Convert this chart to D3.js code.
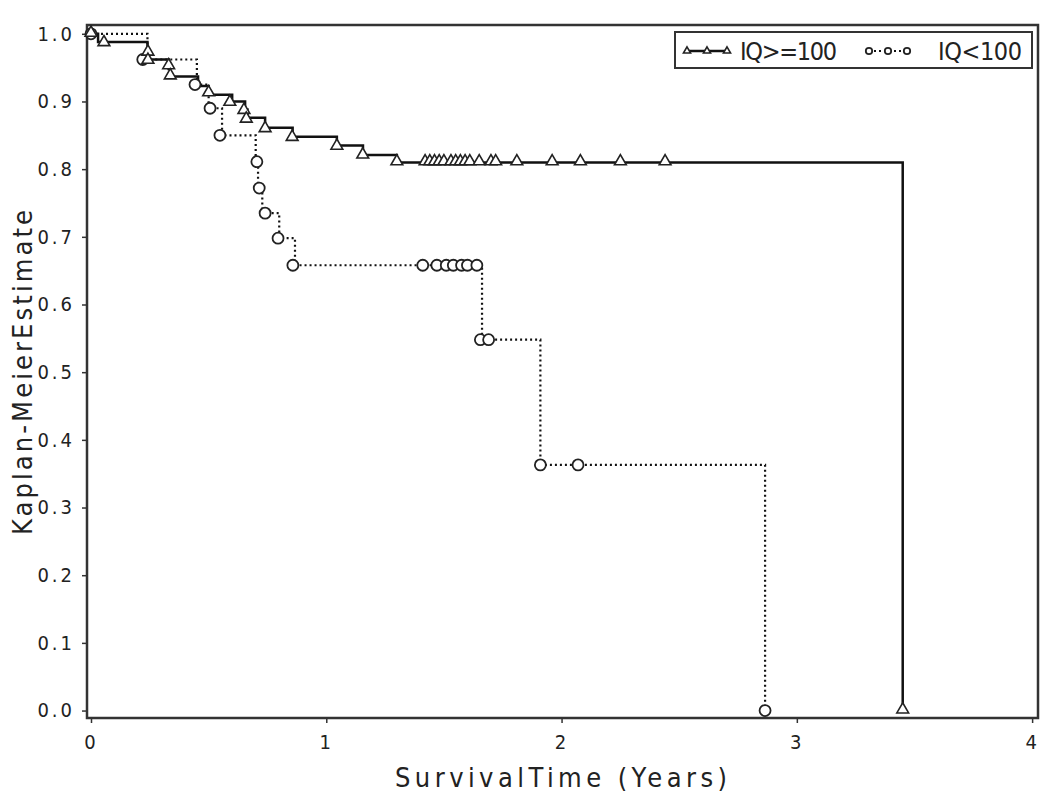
<!DOCTYPE html>
<html lang="en">
  <head>
    <meta charset="utf-8" />
    <title>Kaplan-Meier Estimate by IQ</title>
    <script src="https://d3js.org/d3.v7.js"></script>
    <style>
      body { margin: 0; background: #fff; }
      text {
        font-family: "DejaVu Sans Condensed", "DejaVu Sans", sans-serif;
        fill: #222;
      }
    </style>
  </head>
  <body>
    <div id="graph"></div>
    <script>

    // IQ >= 100 : drop times and survival after each drop
    var hiTimes = [0, 0.03, 0.24, 0.33, 0.336, 0.455, 0.5, 0.6, 0.655, 0.665, 0.74, 0.857, 1.045, 1.156, 1.30, 3.45];
    var hiSurv  = [1.0, 0.988, 0.962, 0.948, 0.937, 0.923, 0.91, 0.9, 0.888, 0.876, 0.861, 0.848, 0.835, 0.821, 0.81, 0.0];
    // IQ >= 100 : censored marks
    var hiCensT = [0, 0.055, 0.242, 0.242, 0.33, 0.337, 0.5, 0.59, 0.65, 0.66, 0.74, 0.855, 1.045, 1.155, 1.30,
                   1.42, 1.44, 1.46, 1.48, 1.50, 1.53, 1.55, 1.57, 1.59, 1.61, 1.65, 1.70, 1.72, 1.81, 1.96, 2.08, 2.25, 2.44, 3.45];
    var hiCensS = [1.0, 0.986, 0.972, 0.96, 0.952, 0.937, 0.912, 0.898, 0.886, 0.873, 0.859, 0.846, 0.833, 0.82, 0.81,
                   0.81, 0.81, 0.81, 0.81, 0.81, 0.81, 0.81, 0.81, 0.81, 0.81, 0.81, 0.81, 0.81, 0.81, 0.81, 0.81, 0.81, 0.81, 0.0];

    // IQ < 100
    var loTimes = [0, 0.24, 0.45, 0.5, 0.557, 0.70, 0.71, 0.728, 0.80, 0.867, 1.662, 1.91, 2.865];
    var loSurv  = [1.0, 0.962, 0.925, 0.89, 0.85, 0.811, 0.772, 0.735, 0.698, 0.658, 0.548, 0.363, 0.0];
    var loCensT = [0, 0.22, 0.442, 0.506, 0.548, 0.705, 0.715, 0.74, 0.795, 0.858,
                   1.41, 1.47, 1.51, 1.54, 1.575, 1.60, 1.64, 1.655, 1.69, 1.91, 2.07, 2.865];
    var loCensS = [1.0, 0.962, 0.925, 0.89, 0.85, 0.811, 0.772, 0.735, 0.698, 0.658,
                   0.658, 0.658, 0.658, 0.658, 0.658, 0.658, 0.658, 0.548, 0.548, 0.363, 0.363, 0.0];

    var yTicks = [0, 0.1, 0.2, 0.3, 0.4, 0.5, 0.6, 0.7, 0.8, 0.9, 1.0];
    var xTicks = [0, 1, 2, 3, 4];
    var legendLabels = ["IQ>=100", "IQ<100"];

    var w = 1050, h = 805;

    var x = d3.scaleLinear().domain([-0.017, 4.025]).range([87, 1038]);
    var y = d3.scaleLinear().domain([-0.011, 1.013]).range([718, 25]);

    var svg = d3.select("#graph")
      .append("svg")
        .attr("width", w)
        .attr("height", h);

    // frame
    svg.append("rect")
      .attr("x", x.range()[0])
      .attr("y", y.range()[1])
      .attr("width", x.range()[1] - x.range()[0])
      .attr("height", y.range()[0] - y.range()[1])
      .attr("fill", "none")
      .attr("stroke", "#333")
      .attr("stroke-width", 2.5);

    // axes
    var yAxis = svg.append("g")
      .attr("transform", `translate(${x.range()[0]},0)`)
      .call(d3.axisLeft(y).tickValues(yTicks).tickSize(5).tickPadding(7).tickFormat(d3.format(".1f")));

    var xAxis = svg.append("g")
      .attr("transform", `translate(0,${y.range()[0]})`)
      .call(d3.axisBottom(x).tickValues(xTicks).tickSize(5).tickPadding(12).tickFormat(d3.format("d")));

    [xAxis, yAxis].forEach(function(a) {
      a.select(".domain").remove();
      a.selectAll(".tick line").attr("stroke", "#333").attr("stroke-width", 1.5);
      a.selectAll(".tick text")
        .attr("font-size", 20)
        .attr("letter-spacing", 3)
        .attr("fill", "#222")
        .style("font-family", '"DejaVu Sans Condensed", "DejaVu Sans", sans-serif');
    });

    // axis titles
    svg.append("text")
      .attr("x", 395)
      .attr("y", 787)
      .attr("font-size", 27)
      .attr("textLength", 332)
      .attr("lengthAdjust", "spacing")
      .text("SurvivalTime (Years)");

    svg.append("text")
      .attr("transform", "translate(32,535) rotate(-90)")
      .attr("font-size", 27)
      .attr("textLength", 325)
      .attr("lengthAdjust", "spacing")
      .text("Kaplan-MeierEstimate");

    var line = d3.line()
      .x(d => x(d[0]))
      .y(d => y(d[1]))
      .curve(d3.curveStepAfter);

    var hi = d3.zip(hiTimes, hiSurv);
    var lo = d3.zip(loTimes, loSurv);

    svg.append("path")
      .attr("d", line(lo))
      .attr("fill", "none")
      .attr("stroke", "#111")
      .attr("stroke-width", 2.2)
      .attr("stroke-dasharray", "2,3");

    svg.append("path")
      .attr("d", line(hi))
      .attr("fill", "none")
      .attr("stroke", "#111")
      .attr("stroke-width", 2.5);

    var tri = d3.symbol().type(d3.symbolTriangle).size(60);

    svg.selectAll("circle.lo")
      .data(d3.zip(loCensT, loCensS))
      .join("circle")
        .attr("class", "lo")
        .attr("cx", d => x(d[0]))
        .attr("cy", d => y(d[1]))
        .attr("r", 5.5)
        .attr("fill", "#fff")
        .attr("stroke", "#222")
        .attr("stroke-width", 1.8);

    svg.selectAll("path.hi")
      .data(d3.zip(hiCensT, hiCensS))
      .join("path")
        .attr("class", "hi")
        .attr("d", tri)
        .attr("transform", d => `translate(${x(d[0])},${y(d[1]) - 1})`)
        .attr("fill", "#fff")
        .attr("stroke", "#222")
        .attr("stroke-width", 1.6);

    // legend
    var lg = svg.append("g");
    lg.append("rect")
      .attr("x", 675).attr("y", 32)
      .attr("width", 357).attr("height", 36)
      .attr("fill", "#fff")
      .attr("stroke", "#333")
      .attr("stroke-width", 2);

    lg.append("line")
      .attr("x1", 687).attr("x2", 727).attr("y1", 51).attr("y2", 51)
      .attr("stroke", "#111").attr("stroke-width", 2.5);
    [687, 707, 727].forEach(function(px) {
      lg.append("path")
        .attr("d", d3.symbol().type(d3.symbolTriangle).size(22))
        .attr("transform", `translate(${px},51)`)
        .attr("fill", "#fff").attr("stroke", "#222").attr("stroke-width", 1.6);
    });
    lg.append("text")
      .attr("x", 740).attr("y", 60)
      .attr("font-size", 25)
      .attr("textLength", 97)
      .attr("lengthAdjust", "spacing")
      .text(legendLabels[0]);

    lg.append("line")
      .attr("x1", 869).attr("x2", 907).attr("y1", 51).attr("y2", 51)
      .attr("stroke", "#111").attr("stroke-width", 2).attr("stroke-dasharray", "2,3");
    [869, 888, 907].forEach(function(px) {
      lg.append("circle")
        .attr("cx", px).attr("cy", 51).attr("r", 3.2)
        .attr("fill", "#fff").attr("stroke", "#222").attr("stroke-width", 1.8);
    });
    lg.append("text")
      .attr("x", 938).attr("y", 60)
      .attr("font-size", 25)
      .attr("textLength", 84)
      .attr("lengthAdjust", "spacing")
      .text(legendLabels[1]);

    </script>
  </body>
</html>
